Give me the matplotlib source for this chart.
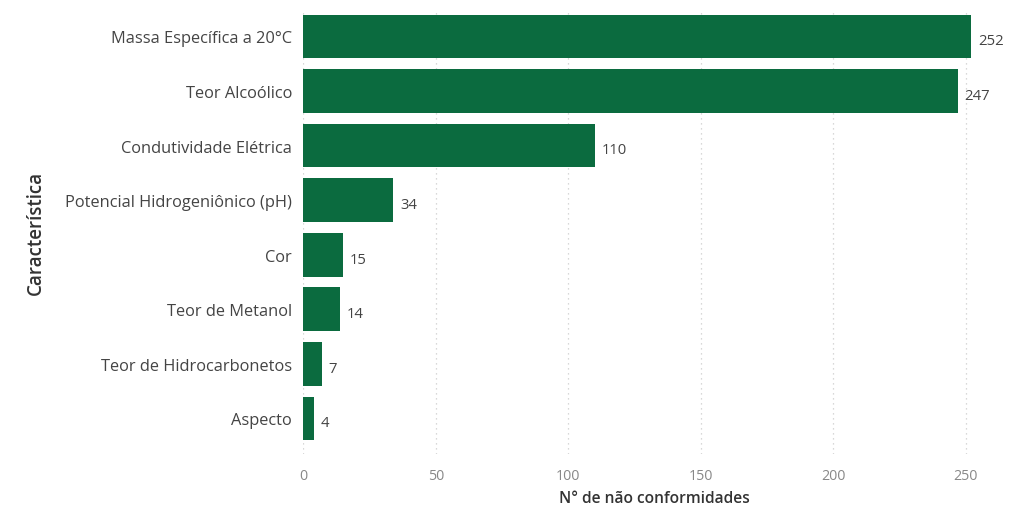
import matplotlib
matplotlib.use("Agg")
import matplotlib.pyplot as plt

categorias = [
    "Massa Específica a 20°C",
    "Teor Alcoólico",
    "Condutividade Elétrica",
    "Potencial Hidrogeniônico (pH)",
    "Cor",
    "Teor de Metanol",
    "Teor de Hidrocarbonetos",
    "Aspecto",
]
nao_conformidades = [252, 247, 110, 34, 15, 14, 7, 4]
x_ticks = [0, 50, 100, 150, 200, 250]

plt.rcParams["font.family"] = ["Open Sans", "DejaVu Sans"]

fig = plt.figure(figsize=(10.21, 5.06), dpi=100)
ax = fig.add_axes([0.297, 0.101, 0.688, 0.879])

pos = list(range(len(categorias)))
ax.barh(pos, nao_conformidades, height=0.8, color="#0b6b3f", zorder=3)

for y, v in zip(pos, nao_conformidades):
    ax.text(v + 2.5, y + 0.08, str(v), va="center", ha="left",
            fontsize=10.7, color="#444444")

ax.set_yticks(pos)
ax.set_yticklabels(categorias, fontsize=11.8, color="#444444")
ax.set_ylim(7.65, -0.5)
ax.set_xlim(0, 265)
ax.set_xticks(x_ticks)
ax.set_xticklabels([str(t) for t in x_ticks], fontsize=10.3, color="#888888")

ax.xaxis.grid(True, linestyle=(0, (1, 3)), color="#cccccc", linewidth=0.9, zorder=0)
ax.tick_params(axis="both", length=0)
ax.tick_params(axis="x", pad=10)
ax.tick_params(axis="y", pad=8)
for s in ax.spines.values():
    s.set_visible(False)

ax.set_xlabel("N° de não conformidades", fontsize=11.2, color="#333333",
              fontweight="semibold", labelpad=5)
ax.set_ylabel("Característica", fontsize=13.5, color="#333333",
              fontweight="semibold", labelpad=14)

fig.savefig("out.png", dpi=100)
